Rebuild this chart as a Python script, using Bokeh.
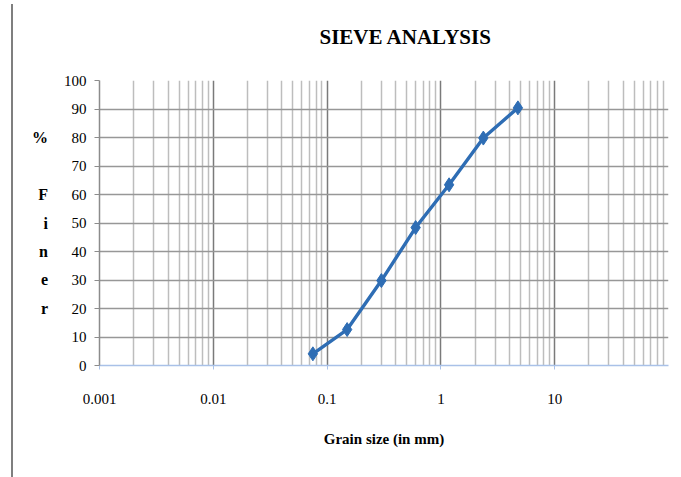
from bokeh.plotting import figure
from bokeh.models import (FixedTicker, CustomJSTickFormatter, ColumnDataSource, Range1d, Title)
from bokeh.embed import file_html
from bokeh.resources import INLINE

# Sieve analysis results
sieve_size_mm = [0.075, 0.15, 0.3, 0.6, 1.18, 2.36, 4.75]
percent_finer = [4.1, 12.6, 29.8, 48.4, 63.4, 79.8, 90.4]

x_major_ticks = [0.001, 0.01, 0.1, 1, 10]
y_ticks = [0, 10, 20, 30, 40, 50, 60, 70, 80, 90, 100]

SERIF = "Liberation Serif"
BLUE = "#2E6DB4"

# minor grid positions: 2..9 within each decade
x_minor_ticks = [m * 10.0 ** e for e in range(-3, 2) for m in range(2, 10)]

p = figure(width=681, height=477, x_axis_type="log",
           x_range=Range1d(0.001, 100), y_range=Range1d(0, 100),
           output_backend="svg", toolbar_location=None,
           min_border_left=99, min_border_right=13,
           min_border_top=80, min_border_bottom=112)
p.outline_line_color = None
p.background_fill_color = "white"
p.border_fill_color = None
# page edge rule on the left side of the sheet
p.styles = {
    "background-color": "white",
    "background-image": "linear-gradient(90deg, #ffffff 11px, #7f7f7f 11px, "
                        "#7f7f7f 13px, #ffffff 13px)",
    "background-repeat": "no-repeat",
    "background-position": "0px 4px",
    "background-size": "100% calc(100% - 4px)",
}

# title, lifted above the frame by a blank spacer title
p.title.text = ""
spacer = Title(text=" ", text_font_size="1px", standoff=29)
p.add_layout(spacer, "above")
main_title = Title(text="SIEVE ANALYSIS", text_font=SERIF, text_font_style="bold",
                   text_font_size="21px", text_color="black", align="left",
                   offset=220, standoff=0)
p.add_layout(main_title, "above")

# x axis
p.xaxis.ticker = FixedTicker(ticks=x_major_ticks, minor_ticks=x_minor_ticks)
p.xaxis.formatter = CustomJSTickFormatter(code="return String(tick);")
p.xaxis.axis_line_color = "#A9C1E8"
p.xaxis.axis_line_width = 1.5
p.xaxis.major_tick_line_color = "#A9C1E8"
p.xaxis.major_tick_in = 0
p.xaxis.major_tick_out = 4
p.xaxis.minor_tick_line_color = None
p.xaxis.major_label_standoff = 24
p.xaxis.axis_label = "Grain size (in mm)"
p.xaxis.axis_label_standoff = 24

# y axis, caption stacked one letter per line
p.yaxis.ticker = FixedTicker(ticks=y_ticks)
p.yaxis.axis_line_color = "#8C8C8C"
p.yaxis.axis_line_width = 1.5
p.yaxis.major_tick_line_color = "#8C8C8C"
p.yaxis.major_tick_in = 0
p.yaxis.major_tick_out = 5
p.yaxis.minor_tick_line_color = None
p.yaxis.major_label_standoff = 8
p.yaxis.axis_label = "%\n\nF\ni\nn\ne\nr"
p.yaxis.axis_label_orientation = "horizontal"
p.yaxis.axis_label_standoff = 13
p.yaxis.axis_label_text_line_height = 1.67
p.yaxis.axis_label_text_font_size = "16px"

for ax in (p.xaxis, p.yaxis):
    ax.major_label_text_font = SERIF
    ax.major_label_text_font_size = "15px"
    ax.major_label_text_color = "black"
    ax.axis_label_text_font = SERIF
    ax.axis_label_text_font_style = "bold"
    ax.axis_label_text_color = "black"
p.xaxis.axis_label_text_font_size = "15px"

# grid
p.xgrid.ticker = FixedTicker(ticks=x_major_ticks, minor_ticks=x_minor_ticks)
p.xgrid.grid_line_color = "#7A7A7A"
p.xgrid.grid_line_width = 1.5
p.xgrid.minor_grid_line_color = "#BDBDBD"
p.xgrid.minor_grid_line_width = 1.5
p.ygrid.ticker = FixedTicker(ticks=y_ticks)
p.ygrid.grid_line_color = "#979797"
p.ygrid.grid_line_width = 1.5

# data series
src = ColumnDataSource(dict(x=sieve_size_mm, y=percent_finer))
p.line("x", "y", source=src, line_color=BLUE, line_width=3.4)
p.scatter("x", "y", source=src, marker="diamond", size=14,
          fill_color=BLUE, line_color=BLUE)

open("out.html", "w").write(file_html(p, INLINE))
